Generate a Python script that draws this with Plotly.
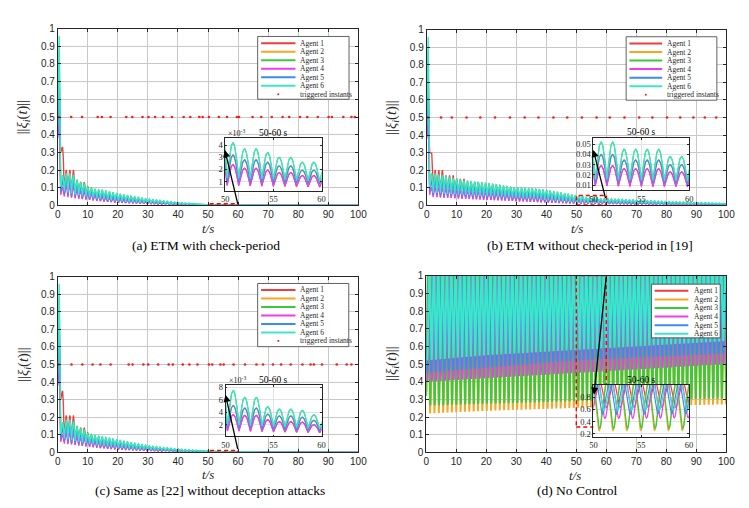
import numpy as np
import plotly.graph_objects as go

W, H = 749, 508
SERIF = "Liberation Serif"
SANS = "Liberation Sans"
INK = "#262626"

AGENTS = ["Agent 1", "Agent 2", "Agent 3", "Agent 4", "Agent 5", "Agent 6"]
COLORS = ["#f03c3c", "#f5a623", "#3cc83c", "#f03cf0", "#3a8cf0", "#3ce6c8"]
TRIG_LABEL = "triggered instants"
TRIG_COLOR = "#ff1a1a"
TRIG_LEVEL = 0.5

CAPTIONS = ["(a) ETM with check-period", "(b) ETM without check-period in [19]",
            "(c) Same as [22] without deception attacks", "(d) No Control"]
X_TICKS = [0, 10, 20, 30, 40, 50, 60, 70, 80, 90, 100]
Y_TICKS = [0, 0.1, 0.2, 0.3, 0.4, 0.5, 0.6, 0.7, 0.8, 0.9, 1]
ZOOM_X = [50, 60]
INSET_X_TICKS = [50, 55, 60]

# ---------------- panel (a) ----------------
A_PERIOD = 1.2
A_FIRST_TROUGH = 1.0
A_INIT_T = [0.0, 0.5]
A_START = [0.45, 0.40, 0.42, 0.38, 0.40, 0.45]
A_SPIKE = [0.60, 0.70, 0.88, 0.50, 0.75, 0.96]
A_PEAK_T = [1.6, 2.8, 4.0, 5.2, 6.4, 7.6, 8.8, 10.0, 12.4, 15, 20, 25, 30, 35, 40, 45, 49.6,
            50.8, 52.0, 53.2, 54.4, 55.6, 56.8, 58.0, 59.2, 65, 75, 100]
A_PEAK_1 = [0.33, 0.20, 0.20, 0.20, 0.13, 0.13, 0.13, 0.105, 0.07, 0.048, 0.037, 0.028, 0.021, 0.015, 0.0095, 0.0057, 0.0031,
            0.0024, 0.0021, 0.0021, 0.00195, 0.00175, 0.00175, 0.0015, 0.0015, 0.0008, 0.0003, 0.00005]
A_PEAK_2 = [0.13, 0.145, 0.15, 0.14, 0.12, 0.11, 0.10, 0.087, 0.072, 0.065, 0.05, 0.038, 0.028, 0.02, 0.013, 0.0077, 0.0042,
            0.0032, 0.0028, 0.0028, 0.0026, 0.0023, 0.0023, 0.00195, 0.00195, 0.0011, 0.00045, 0.00008]
A_PEAK_3 = [0.16, 0.175, 0.17, 0.165, 0.145, 0.13, 0.125, 0.105, 0.092, 0.085, 0.065, 0.05, 0.036, 0.026, 0.017, 0.01, 0.0055,
            0.0042, 0.0037, 0.0037, 0.0034, 0.0030, 0.0030, 0.0026, 0.0026, 0.0015, 0.0006, 0.0001]
A_PEAK_4 = [0.10, 0.11, 0.11, 0.105, 0.085, 0.078, 0.075, 0.065, 0.055, 0.048, 0.037, 0.028, 0.021, 0.015, 0.0095, 0.0057, 0.0031,
            0.0024, 0.0021, 0.0021, 0.00195, 0.00175, 0.00175, 0.0015, 0.0015, 0.0008, 0.0003, 0.00005]
A_PEAK_5 = [0.14, 0.15, 0.15, 0.14, 0.115, 0.105, 0.10, 0.085, 0.072, 0.065, 0.05, 0.038, 0.028, 0.02, 0.013, 0.0077, 0.0042,
            0.0032, 0.0028, 0.0028, 0.0026, 0.0023, 0.0023, 0.00195, 0.00195, 0.0011, 0.00045, 0.00008]
A_PEAK_6 = [0.17, 0.18, 0.18, 0.17, 0.14, 0.125, 0.12, 0.10, 0.09, 0.085, 0.065, 0.05, 0.036, 0.026, 0.017, 0.01, 0.0055,
            0.0042, 0.0037, 0.0037, 0.0034, 0.0030, 0.0030, 0.0026, 0.0026, 0.0015, 0.0006, 0.0001]
A_TROUGH_T = [1.0, 2.2, 5, 10, 15, 20, 25, 30, 35, 40, 45, 50, 55, 60, 70, 100]
A_TROUGH_1 = [0.30, 0.06, 0.042, 0.032, 0.022, 0.015, 0.011, 0.008, 0.0055, 0.0037, 0.0022, 0.0007, 0.00062, 0.00055, 0.0002, 0.00005]
A_TROUGH_2 = [0.08, 0.065, 0.052, 0.04, 0.028, 0.019, 0.014, 0.01, 0.007, 0.0047, 0.0028, 0.00095, 0.0009, 0.0008, 0.0003, 0.00008]
A_TROUGH_3 = [0.10, 0.08, 0.065, 0.048, 0.034, 0.024, 0.017, 0.012, 0.0085, 0.0058, 0.0035, 0.0013, 0.0012, 0.001, 0.0004, 0.0001]
A_TROUGH_4 = [0.06, 0.05, 0.042, 0.032, 0.022, 0.015, 0.011, 0.008, 0.0055, 0.0037, 0.0022, 0.0007, 0.00062, 0.00055, 0.0002, 0.00005]
A_TROUGH_5 = [0.08, 0.065, 0.052, 0.04, 0.028, 0.019, 0.014, 0.01, 0.007, 0.0047, 0.0028, 0.00095, 0.0009, 0.0008, 0.0003, 0.00008]
A_TROUGH_6 = [0.10, 0.08, 0.065, 0.048, 0.034, 0.024, 0.017, 0.012, 0.0085, 0.0058, 0.0035, 0.0013, 0.0012, 0.001, 0.0004, 0.0001]
A_TRIG = [0.3, 4.5, 8.1, 13.3, 14.7, 17.6, 22.8, 24.8, 28.2, 30.2, 32.4, 35.1, 38.0, 41.9, 44.1, 47.1, 48.2,
          50.3, 53.6, 56.3, 59.6, 60.3, 64.8, 67.7, 71.2, 74.8, 77.0, 80.6, 83.0, 86.5, 90.1, 91.2, 95.0, 97.7, 98.8]
A_ZOOM_Y = [0.0, 0.009]
A_INSET_Y = [0.25e-3, 4.6e-3]
A_INSET_TICKS = [1e-3, 2e-3, 3e-3, 4e-3]
A_INSET_TICKTEXT = ["1", "2", "3", "4"]

# ---------------- panel (b) ----------------
B_PERIOD = 1.2
B_FIRST_TROUGH = 1.0
B_INIT_T = [0.0, 0.5]
B_START = [0.45, 0.40, 0.42, 0.38, 0.40, 0.45]
B_SPIKE = [0.62, 0.70, 0.88, 0.50, 0.75, 0.96]
B_PEAK_T = [1.6, 2.8, 5.2, 6.4, 8.8, 10.0, 12.4, 13.6, 17.2, 18.4, 22.0, 23.2, 28.0, 29.2, 35, 40, 45, 49.6,
            50.8, 52.0, 53.2, 54.4, 55.6, 56.8, 58.0, 59.2, 65, 70, 80, 90, 100]
B_PEAK_1 = [0.30, 0.20, 0.20, 0.17, 0.17, 0.15, 0.15, 0.13, 0.13, 0.115, 0.115, 0.10, 0.10, 0.06, 0.053, 0.048, 0.039, 0.031,
            0.029, 0.029, 0.026, 0.026, 0.026, 0.026, 0.023, 0.023, 0.019, 0.017, 0.012, 0.009, 0.006]
B_PEAK_2 = [0.14, 0.14, 0.13, 0.127, 0.12, 0.115, 0.108, 0.105, 0.10, 0.098, 0.092, 0.09, 0.08, 0.077, 0.073, 0.065, 0.054, 0.043,
            0.040, 0.040, 0.0345, 0.0345, 0.0345, 0.0345, 0.030, 0.030, 0.026, 0.023, 0.017, 0.012, 0.0085]
B_PEAK_3 = [0.18, 0.18, 0.17, 0.165, 0.155, 0.15, 0.14, 0.137, 0.13, 0.128, 0.12, 0.117, 0.103, 0.10, 0.095, 0.085, 0.07, 0.056,
            0.052, 0.052, 0.045, 0.045, 0.045, 0.045, 0.038, 0.038, 0.034, 0.030, 0.022, 0.016, 0.011]
B_PEAK_4 = [0.10, 0.10, 0.095, 0.092, 0.087, 0.084, 0.078, 0.077, 0.073, 0.072, 0.067, 0.066, 0.058, 0.056, 0.053, 0.048, 0.039, 0.031,
            0.029, 0.029, 0.026, 0.026, 0.026, 0.026, 0.023, 0.023, 0.019, 0.017, 0.012, 0.009, 0.006]
B_PEAK_5 = [0.14, 0.14, 0.13, 0.127, 0.12, 0.115, 0.108, 0.105, 0.10, 0.098, 0.092, 0.09, 0.08, 0.077, 0.073, 0.065, 0.054, 0.043,
            0.040, 0.040, 0.0345, 0.0345, 0.0345, 0.0345, 0.030, 0.030, 0.026, 0.023, 0.017, 0.012, 0.0085]
B_PEAK_6 = [0.18, 0.18, 0.17, 0.165, 0.155, 0.15, 0.14, 0.137, 0.13, 0.128, 0.12, 0.117, 0.103, 0.10, 0.095, 0.085, 0.07, 0.056,
            0.052, 0.052, 0.045, 0.045, 0.045, 0.045, 0.038, 0.038, 0.034, 0.030, 0.022, 0.016, 0.011]
B_TROUGH_T = [1.0, 2.2, 5, 10, 20, 30, 40, 50, 55, 60, 70, 80, 100]
B_TROUGH_1 = [0.30, 0.05, 0.045, 0.04, 0.032, 0.024, 0.016, 0.0095, 0.0088, 0.0085, 0.006, 0.0045, 0.0025]
B_TROUGH_2 = [0.08, 0.06, 0.057, 0.052, 0.043, 0.034, 0.024, 0.013, 0.012, 0.0115, 0.0085, 0.0062, 0.0032]
B_TROUGH_3 = [0.10, 0.072, 0.068, 0.062, 0.052, 0.042, 0.03, 0.016, 0.015, 0.014, 0.0105, 0.0077, 0.004]
B_TROUGH_4 = [0.06, 0.048, 0.045, 0.04, 0.032, 0.024, 0.016, 0.0095, 0.0088, 0.0085, 0.006, 0.0045, 0.0025]
B_TROUGH_5 = [0.08, 0.06, 0.057, 0.052, 0.043, 0.034, 0.024, 0.013, 0.012, 0.0115, 0.0085, 0.0062, 0.0032]
B_TROUGH_6 = [0.10, 0.072, 0.068, 0.062, 0.052, 0.042, 0.03, 0.016, 0.015, 0.014, 0.0105, 0.0077, 0.004]
B_TRIG = [0.4, 4.8, 8.4, 13.3, 17.9, 22.8, 27.8, 32.7, 37.3, 42.3, 46.9, 51.8, 56.7, 61.1, 66.0, 70.9,
          75.3, 80.2, 84.6, 89.0, 92.8, 96.6]
B_ZOOM_Y = [0.003, 0.056]
B_INSET_Y = [0.0049, 0.0563]
B_INSET_TICKS = [0.01, 0.02, 0.03, 0.04, 0.05]
B_INSET_TICKTEXT = ["0.01", "0.02", "0.03", "0.04", "0.05"]

# ---------------- panel (c) ----------------
C_PERIOD = 1.2
C_FIRST_TROUGH = 1.0
C_INIT_T = [0.0, 0.5]
C_START = [0.45, 0.40, 0.42, 0.38, 0.40, 0.45]
C_SPIKE = [0.62, 0.70, 0.88, 0.50, 0.75, 0.96]
C_PEAK_T = [1.6, 2.8, 4.0, 5.2, 6.4, 7.6, 8.8, 10.0, 12.4, 15, 20, 25, 30, 35, 40, 45, 49.6,
            50.8, 52.0, 53.2, 54.4, 55.6, 56.8, 58.0, 59.2, 65, 75, 100]
C_PEAK_1 = [0.35, 0.21, 0.21, 0.21, 0.14, 0.14, 0.14, 0.11, 0.075, 0.05, 0.04, 0.03, 0.022, 0.016, 0.011, 0.0072, 0.0047,
            0.0036, 0.0035, 0.0035, 0.0028, 0.0025, 0.0025, 0.0024, 0.002, 0.0013, 0.0006, 0.0001]
C_PEAK_2 = [0.13, 0.145, 0.15, 0.14, 0.12, 0.107, 0.102, 0.087, 0.078, 0.07, 0.055, 0.041, 0.03, 0.022, 0.015, 0.01, 0.0066,
            0.0051, 0.0047, 0.0047, 0.0037, 0.0034, 0.0034, 0.0032, 0.0027, 0.0018, 0.0008, 0.00015]
C_PEAK_3 = [0.16, 0.18, 0.175, 0.17, 0.15, 0.135, 0.13, 0.11, 0.095, 0.088, 0.07, 0.053, 0.038, 0.028, 0.019, 0.013, 0.009,
            0.0075, 0.0064, 0.0064, 0.0049, 0.0045, 0.0045, 0.0043, 0.0036, 0.0024, 0.001, 0.0002]
C_PEAK_4 = [0.10, 0.11, 0.11, 0.105, 0.088, 0.08, 0.077, 0.067, 0.058, 0.05, 0.04, 0.03, 0.022, 0.016, 0.011, 0.0072, 0.0047,
            0.0036, 0.0035, 0.0035, 0.0028, 0.0025, 0.0025, 0.0024, 0.002, 0.0013, 0.0006, 0.0001]
C_PEAK_5 = [0.14, 0.15, 0.15, 0.14, 0.12, 0.107, 0.102, 0.087, 0.078, 0.07, 0.055, 0.041, 0.03, 0.022, 0.015, 0.01, 0.0066,
            0.0051, 0.0047, 0.0047, 0.0037, 0.0034, 0.0034, 0.0032, 0.0027, 0.0018, 0.0008, 0.00015]
C_PEAK_6 = [0.17, 0.185, 0.185, 0.175, 0.145, 0.13, 0.125, 0.105, 0.095, 0.088, 0.07, 0.053, 0.038, 0.028, 0.019, 0.013, 0.009,
            0.0075, 0.0064, 0.0064, 0.0049, 0.0045, 0.0045, 0.0043, 0.0036, 0.0024, 0.001, 0.0002]
C_TROUGH_T = [1.0, 2.2, 5, 10, 15, 20, 25, 30, 35, 40, 45, 50, 55, 60, 70, 100]
C_TROUGH_1 = [0.30, 0.06, 0.044, 0.033, 0.023, 0.016, 0.012, 0.0085, 0.006, 0.004, 0.0025, 0.001, 0.00085, 0.0007, 0.0003, 0.00005]
C_TROUGH_2 = [0.08, 0.065, 0.054, 0.041, 0.03, 0.021, 0.015, 0.011, 0.008, 0.0055, 0.0035, 0.0015, 0.0012, 0.001, 0.0005, 0.0001]
C_TROUGH_3 = [0.10, 0.08, 0.068, 0.05, 0.036, 0.026, 0.019, 0.014, 0.01, 0.007, 0.0045, 0.002, 0.0017, 0.0013, 0.0006, 0.0001]
C_TROUGH_4 = [0.06, 0.05, 0.044, 0.033, 0.023, 0.016, 0.012, 0.0085, 0.006, 0.004, 0.0025, 0.001, 0.00085, 0.0007, 0.0003, 0.00005]
C_TROUGH_5 = [0.08, 0.065, 0.054, 0.041, 0.03, 0.021, 0.015, 0.011, 0.008, 0.0055, 0.0035, 0.0015, 0.0012, 0.001, 0.0005, 0.0001]
C_TROUGH_6 = [0.10, 0.08, 0.068, 0.05, 0.036, 0.026, 0.019, 0.014, 0.01, 0.007, 0.0045, 0.002, 0.0017, 0.0013, 0.0006, 0.0001]
C_TRIG = [0.2, 4.6, 8.2, 11.6, 14.2, 17.6, 23.6, 24.9, 28.5, 30.1, 33.4, 36.9, 38.3, 41.6, 43.8, 46.5, 50.3,
          51.4, 54.1, 55.2, 58.5, 62.3, 66.1, 68.3, 71.6, 74.3, 77.5, 81.4, 84.1, 85.2, 87.9, 92.8, 96.1, 97.7]
C_ZOOM_Y = [0.0, 0.011]
C_INSET_Y = [0.1e-3, 8.4e-3]
C_INSET_TICKS = [2e-3, 4e-3, 6e-3, 8e-3]
C_INSET_TICKTEXT = ["2", "4", "6", "8"]

# ---------------- panel (d) ----------------
D_PERIOD = 1.45
D_FIRST_TROUGH = [0.6, -0.15, -0.1, 0.45, 0.2, 0.35]
D_PEAK_T = [0, 100]
D_PEAK = [1.08, 1.08]
D_TROUGH_T = [0, 20, 50, 100]
D_TROUGH_1 = [0.60, 0.62, 0.63, 0.67]
D_TROUGH_2 = [0.22, 0.235, 0.252, 0.272]
D_TROUGH_3 = [0.265, 0.275, 0.29, 0.305]
D_TROUGH_4 = [0.40, 0.42, 0.45, 0.50]
D_TROUGH_5 = [0.45, 0.48, 0.52, 0.56]
D_TROUGH_6 = [0.52, 0.55, 0.58, 0.63]
D_ZOOM_Y = [0.144, 1.0]
D_INSET_Y = [0.147, 0.996]
D_INSET_TICKS = [0.2, 0.4, 0.6, 0.8]
D_INSET_TICKTEXT = ["0.2", "0.4", "0.6", "0.8"]


def oscillation(first_trough, period, peak_t, peak_v, trough_t, trough_v,
                smooth=False, init_t=None, init_v=None, n=12, t_end=100.0):
    """Join the read-off extremes (troughs / peaks) with a smooth stroke."""
    ext_t = []
    k = 0
    while first_trough + k * period <= t_end + period:
        tt = first_trough + k * period
        ext_t += [tt, tt + period / 2]
        k += 1
    ext_t = np.array(ext_t)
    pk = np.interp(ext_t, peak_t, peak_v)
    tr = np.interp(ext_t, trough_t, trough_v)
    ext_v = np.where(np.arange(len(ext_t)) % 2 == 0, tr, pk)
    f = np.linspace(0, 1, n, endpoint=False)
    ts, vs = [], []
    if init_t is not None:
        ts.append(np.array(init_t, float))
        vs.append(np.array(init_v, float))
    for i in range(len(ext_t) - 1):
        a, b = ext_v[i], ext_v[i + 1]
        if smooth:
            s = (1 - np.cos(np.pi * f)) / 2
        elif i % 2 == 0:
            s = np.sin(np.pi * f / 2)
        else:
            s = 1 - np.cos(np.pi * f / 2)
        ts.append(ext_t[i] + (ext_t[i + 1] - ext_t[i]) * f)
        vs.append(a + (b - a) * s)
    t = np.concatenate(ts)
    v = np.concatenate(vs)
    keep = (t >= 0) & (t <= t_end)
    return t[keep], v[keep]


series = {"a": [], "b": [], "c": [], "d": []}
A_PEAKS = [A_PEAK_1, A_PEAK_2, A_PEAK_3, A_PEAK_4, A_PEAK_5, A_PEAK_6]
A_TROUGHS = [A_TROUGH_1, A_TROUGH_2, A_TROUGH_3, A_TROUGH_4, A_TROUGH_5, A_TROUGH_6]
B_PEAKS = [B_PEAK_1, B_PEAK_2, B_PEAK_3, B_PEAK_4, B_PEAK_5, B_PEAK_6]
B_TROUGHS = [B_TROUGH_1, B_TROUGH_2, B_TROUGH_3, B_TROUGH_4, B_TROUGH_5, B_TROUGH_6]
C_PEAKS = [C_PEAK_1, C_PEAK_2, C_PEAK_3, C_PEAK_4, C_PEAK_5, C_PEAK_6]
C_TROUGHS = [C_TROUGH_1, C_TROUGH_2, C_TROUGH_3, C_TROUGH_4, C_TROUGH_5, C_TROUGH_6]
D_TROUGHS = [D_TROUGH_1, D_TROUGH_2, D_TROUGH_3, D_TROUGH_4, D_TROUGH_5, D_TROUGH_6]

for i in range(6):
    series["a"].append(oscillation(A_FIRST_TROUGH, A_PERIOD, A_PEAK_T, A_PEAKS[i], A_TROUGH_T, A_TROUGHS[i],
                                   init_t=A_INIT_T, init_v=[A_START[i], A_SPIKE[i]]))
    series["b"].append(oscillation(B_FIRST_TROUGH, B_PERIOD, B_PEAK_T, B_PEAKS[i], B_TROUGH_T, B_TROUGHS[i],
                                   init_t=B_INIT_T, init_v=[B_START[i], B_SPIKE[i]]))
    series["c"].append(oscillation(C_FIRST_TROUGH, C_PERIOD, C_PEAK_T, C_PEAKS[i], C_TROUGH_T, C_TROUGHS[i],
                                   init_t=C_INIT_T, init_v=[C_START[i], C_SPIKE[i]]))
    series["d"].append(oscillation(D_FIRST_TROUGH[i], D_PERIOD, D_PEAK_T, D_PEAK, D_TROUGH_T, D_TROUGHS[i],
                                   smooth=True))


def px(x):
    return x / W


def py(y):
    return 1 - y / H


# subplot geometry (pixels): left, right, top, bottom
MAIN_BOX = {"a": (46.5, 352.5, 15, 196), "b": (422, 727, 16, 196),
            "c": (46.5, 352.5, 269, 449), "d": (421.5, 727, 268, 449)}
INSET_BOX = {"a": (217, 315, 127, 181), "b": (591.7, 689.3, 126.7, 180.7),
             "c": (217.3, 315, 380, 432.7), "d": (591.7, 689, 380, 433.3)}
PANELS = ["a", "b", "c", "d"]
MAIN_ID = {"a": "", "b": "2", "c": "3", "d": "4"}
INSET_ID = {"a": "5", "b": "6", "c": "7", "d": "8"}
TRIGS = {"a": A_TRIG, "b": B_TRIG, "c": C_TRIG, "d": None}
ZOOM_Y = {"a": A_ZOOM_Y, "b": B_ZOOM_Y, "c": C_ZOOM_Y, "d": D_ZOOM_Y}
INSET_Y = {"a": A_INSET_Y, "b": B_INSET_Y, "c": C_INSET_Y, "d": D_INSET_Y}
INSET_TICKS = {"a": (A_INSET_TICKS, A_INSET_TICKTEXT), "b": (B_INSET_TICKS, B_INSET_TICKTEXT),
               "c": (C_INSET_TICKS, C_INSET_TICKTEXT), "d": (D_INSET_TICKS, D_INSET_TICKTEXT)}

fig = go.Figure()

# main traces
for p in PANELS:
    mid = MAIN_ID[p]
    lw = 2.0 if p == "d" else 1.35
    for i in range(6):
        t, v = series[p][i]
        fig.add_trace(go.Scatter(x=t, y=v, mode="lines", line=dict(color=COLORS[i], width=lw),
                                 xaxis="x" + mid, yaxis="y" + mid, showlegend=False, hoverinfo="skip"))
    if TRIGS[p] is not None:
        fig.add_trace(go.Scatter(x=TRIGS[p], y=[TRIG_LEVEL] * len(TRIGS[p]), mode="markers",
                                 marker=dict(color=TRIG_COLOR, size=2.6, symbol="circle"),
                                 xaxis="x" + mid, yaxis="y" + mid, showlegend=False, hoverinfo="skip"))
    zy = ZOOM_Y[p]
    fig.add_trace(go.Scatter(x=[ZOOM_X[0], ZOOM_X[1], ZOOM_X[1], ZOOM_X[0], ZOOM_X[0]],
                             y=[zy[0], zy[0], zy[1], zy[1], zy[0]], mode="lines",
                             line=dict(color="#ff0000", width=1.4, dash="4px,3px"),
                             xaxis="x" + mid, yaxis="y" + mid, showlegend=False, hoverinfo="skip",
                             cliponaxis=False))

# inset traces
for p in PANELS:
    iid = INSET_ID[p]
    for i in range(6):
        t, v = series[p][i]
        m = (t >= ZOOM_X[0] - 0.6) & (t <= ZOOM_X[1] + 0.6)
        fig.add_trace(go.Scatter(x=t[m], y=v[m], mode="lines", line=dict(color=COLORS[i], width=1.2),
                                 xaxis="x" + iid, yaxis="y" + iid, showlegend=False, hoverinfo="skip"))

layout = dict(width=W, height=H, autosize=False, margin=dict(l=0, r=0, t=0, b=0),
              paper_bgcolor="white", plot_bgcolor="white", showlegend=False)

for p in PANELS:
    l, r, t, b = MAIN_BOX[p]
    mid = MAIN_ID[p]
    common = dict(showline=True, mirror="ticks", linecolor=INK, linewidth=0.8, ticks="inside", ticklen=3,
                  tickcolor=INK, tickwidth=0.8, showgrid=True, gridcolor="#c8c8c8", gridwidth=1,
                  zeroline=False, tickfont=dict(family=SANS, size=10, color=INK))
    layout["xaxis" + mid] = dict(common, domain=[px(l), px(r)], range=[0, 100], anchor="y" + mid,
                                 tickvals=X_TICKS, ticktext=[str(x) for x in X_TICKS])
    layout["yaxis" + mid] = dict(common, domain=[py(b), py(t)], range=[0, 1], anchor="x" + mid,
                                 tickvals=Y_TICKS, ticktext=[("%g" % y) for y in Y_TICKS])

for p in PANELS:
    l, r, t, b = INSET_BOX[p]
    iid = INSET_ID[p]
    common = dict(showline=True, mirror="ticks", linecolor=INK, linewidth=0.8, ticks="inside", ticklen=2,
                  tickcolor=INK, tickwidth=0.7, showgrid=True, gridcolor="#e2e2e2", gridwidth=0.8,
                  zeroline=False, tickfont=dict(family=SERIF, size=8.5, color=INK))
    tv, tt = INSET_TICKS[p]
    layout["xaxis" + iid] = dict(common, domain=[px(l), px(r)], range=ZOOM_X, anchor="y" + iid,
                                 tickvals=INSET_X_TICKS, ticktext=[str(x) for x in INSET_X_TICKS])
    layout["yaxis" + iid] = dict(common, domain=[py(b), py(t)], range=INSET_Y[p], anchor="x" + iid,
                                 tickvals=tv, ticktext=tt)

annotations = []
shapes = []

# captions, axis titles
CAP_POS = {"a": (197, 236.7), "b": (588, 237), "c": (201.7, 488.3), "d": (575, 488.3)}
TS_POS = {"a": (199, 220), "b": (575, 220), "c": (199, 472), "d": (573, 472.5)}
for k, p in enumerate(PANELS):
    cx, cy = CAP_POS[p]
    annotations.append(dict(text=CAPTIONS[k], x=px(cx), y=py(cy), xref="paper", yref="paper",
                            showarrow=False, xanchor="center", yanchor="middle",
                            font=dict(family=SERIF, size=13.5, color="black")))
    tx, ty = TS_POS[p]
    annotations.append(dict(text="<i>t/s</i>", x=px(tx), y=py(ty), xref="paper", yref="paper",
                            showarrow=False, xanchor="center", yanchor="middle",
                            font=dict(family=SERIF, size=13, color=INK)))
    l, r, t, b = MAIN_BOX[p]
    annotations.append(dict(text="||<i>ξ<sub>i</sub></i>(<i>t</i>)||", x=px(l - 35), y=py((t + b) / 2),
                            xref="paper", yref="paper", showarrow=False, textangle=-90,
                            xanchor="center", yanchor="middle",
                            font=dict(family=SERIF, size=14.5, color=INK)))
    il, ir, it, ib = INSET_BOX[p]
    annotations.append(dict(text="50-60 s", x=px((il + ir) / 2), y=py(it - 5.5), xref="paper", yref="paper",
                            showarrow=False, xanchor="center", yanchor="middle",
                            font=dict(family=SERIF, size=9.5, color="black")))

# exponent labels for (a) and (c)
for p in ["a", "c"]:
    il, ir, it, ib = INSET_BOX[p]
    annotations.append(dict(text="×10<sup>-3</sup>", x=px(il + 1), y=py(it - 5), xref="paper", yref="paper",
                            showarrow=False, xanchor="left", yanchor="middle",
                            font=dict(family=SERIF, size=8, color=INK)))

# arrows (head, tail) in main-axis data coordinates
ARROWS = {"a": ((55.6, 0.313), (60.0, 0.0)), "b": ((55.6, 0.315), (59.8, 0.033)),
          "c": ((55.8, 0.328), (60.0, 0.01)), "d": ((55.9, 0.326), (60.0, 1.0))}
for p in PANELS:
    (hx, hy), (tx, ty) = ARROWS[p]
    mid = MAIN_ID[p]
    annotations.append(dict(x=hx, y=hy, ax=tx, ay=ty, xref="x" + mid, yref="y" + mid,
                            axref="x" + mid, ayref="y" + mid, text="", showarrow=True,
                            arrowhead=2, arrowsize=1.1, arrowwidth=1.3, arrowcolor="black"))

# manual legends (pixels): box l, r, t, b ; line x0, x1 ; text x ; first row y ; row step
LEGENDS = {"a": (250, 343, 23, 87.3, 253.5, 288.5, 291.5, 30.0, 8.7),
           "b": (625, 717.3, 23.3, 88.3, 628.3, 661.7, 665, 30.2, 8.75),
           "c": (250, 342.7, 276, 340.7, 253.5, 288.5, 291.5, 282.6, 8.7),
           "d": (650.7, 720.7, 276.7, 331.7, 654, 688.3, 691.7, 283.5, 8.8)}
for p in PANELS:
    bl, br, bt, bb, lx0, lx1, tx, y0, dy = LEGENDS[p]
    shapes.append(dict(type="rect", xref="paper", yref="paper", x0=px(bl), x1=px(br), y0=py(bb), y1=py(bt),
                       fillcolor="white", line=dict(color="#3a3a3a", width=0.8), layer="above"))
    labels = AGENTS + ([TRIG_LABEL] if TRIGS[p] is not None else [])
    for k, lab in enumerate(labels):
        yy = y0 + k * dy
        if k < 6:
            shapes.append(dict(type="line", xref="paper", yref="paper", x0=px(lx0), x1=px(lx1),
                               y0=py(yy), y1=py(yy), line=dict(color=COLORS[k], width=2), layer="above"))
        else:
            cx = (lx0 + lx1) / 2
            shapes.append(dict(type="rect", xref="paper", yref="paper", x0=px(cx - 0.9), x1=px(cx + 0.9),
                               y0=py(yy + 0.9), y1=py(yy - 0.9), fillcolor=TRIG_COLOR,
                               line=dict(width=0), layer="above"))
        annotations.append(dict(text=lab, x=px(tx), y=py(yy), xref="paper", yref="paper", showarrow=False,
                                xanchor="left", yanchor="middle",
                                font=dict(family=SERIF, size=7.5, color=INK)))

layout["annotations"] = annotations
layout["shapes"] = shapes
fig.update_layout(**layout)
fig.write_html("out.html")
